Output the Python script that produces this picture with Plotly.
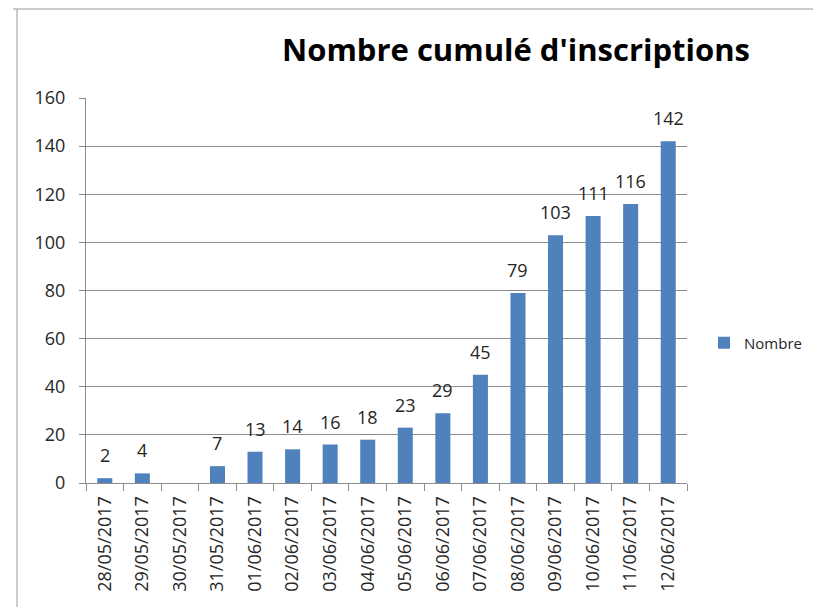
import plotly.graph_objects as go

dates = ["28/05/2017", "29/05/2017", "30/05/2017", "31/05/2017", "01/06/2017",
         "02/06/2017", "03/06/2017", "04/06/2017", "05/06/2017", "06/06/2017",
         "07/06/2017", "08/06/2017", "09/06/2017", "10/06/2017", "11/06/2017",
         "12/06/2017"]
values = [2, 4, None, 7, 13, 14, 16, 18, 23, 29, 45, 79, 103, 111, 116, 142]
y_ticks = [0, 20, 40, 60, 80, 100, 120, 140, 160]

# page body has an 8px margin, so the figure is drawn 8px in from the window edge
OFF = 8
W, H = 821 - OFF, 607 - OFF
L, R, T, B = 86 - OFF, 687 - OFF, 98 - OFF, 483 - OFF

font_family = "Open Sans, DejaVu Sans, sans-serif"
txt_color = "#262626"
grid_color = "#8c8c8c"

fig = go.Figure()
fig.add_trace(go.Bar(
    x=dates, y=values, name="Nombre",
    marker=dict(color="#4F81BD", line=dict(width=0)),
))

annotations = []
for d, v in zip(dates, values):
    if v is None:
        continue
    annotations.append(dict(
        x=d, y=v, xref="x", yref="y", text=str(v), showarrow=False,
        yanchor="bottom", yshift=9,
        font=dict(size=18, color=txt_color, family=font_family),
    ))

def px(x):
    return (x - L) / (R - L)

def py(y):
    return (B - y) / (B - T)

fig.update_layout(
    width=W, height=H,
    margin=dict(l=L, r=W - R, t=T, b=H - B, pad=0),
    paper_bgcolor="white", plot_bgcolor="white",
    bargap=0.6,
    showlegend=True,
    legend=dict(x=px(704 - OFF), y=py(343 - OFF), xanchor="left", yanchor="middle",
                font=dict(size=15, color=txt_color, family=font_family),
                itemwidth=30, tracegroupgap=0),
    title=dict(text="<b>Nombre cumulé d'inscriptions</b>", x=(516 - OFF) / W, xanchor="center",
               y=1 - (50 - OFF) / H, yanchor="middle",
               font=dict(size=31, color="black", family=font_family)),
    font=dict(family=font_family),
    annotations=annotations,
    shapes=[
        dict(type="line", xref="paper", yref="paper", x0=px(13 - OFF), x1=px(821), y0=py(9 - OFF), y1=py(9 - OFF),
             line=dict(color="#999999", width=1)),
        dict(type="line", xref="paper", yref="paper", x0=px(17 - OFF), x1=px(17 - OFF), y0=py(9 - OFF), y1=py(607),
             line=dict(color="#999999", width=1)),
    ],
)
fig.update_xaxes(
    type="category", tickangle=-90, tickson="boundaries",
    ticks="outside", ticklen=7, tickcolor=grid_color,
    showline=True, linecolor=grid_color, linewidth=1,
    tickfont=dict(size=18, color=txt_color, family=font_family),
    ticklabelstandoff=5,
    showgrid=False,
)
fig.update_yaxes(
    range=[0, 160], tickvals=y_ticks, ticks="outside", ticklen=6, tickcolor=grid_color,
    showline=True, linecolor=grid_color, linewidth=1,
    showgrid=True, gridcolor=grid_color, gridwidth=1, zeroline=False,
    tickfont=dict(size=18, color=txt_color, family=font_family),
    ticklabelstandoff=10,
)
fig.write_html("out.html")
